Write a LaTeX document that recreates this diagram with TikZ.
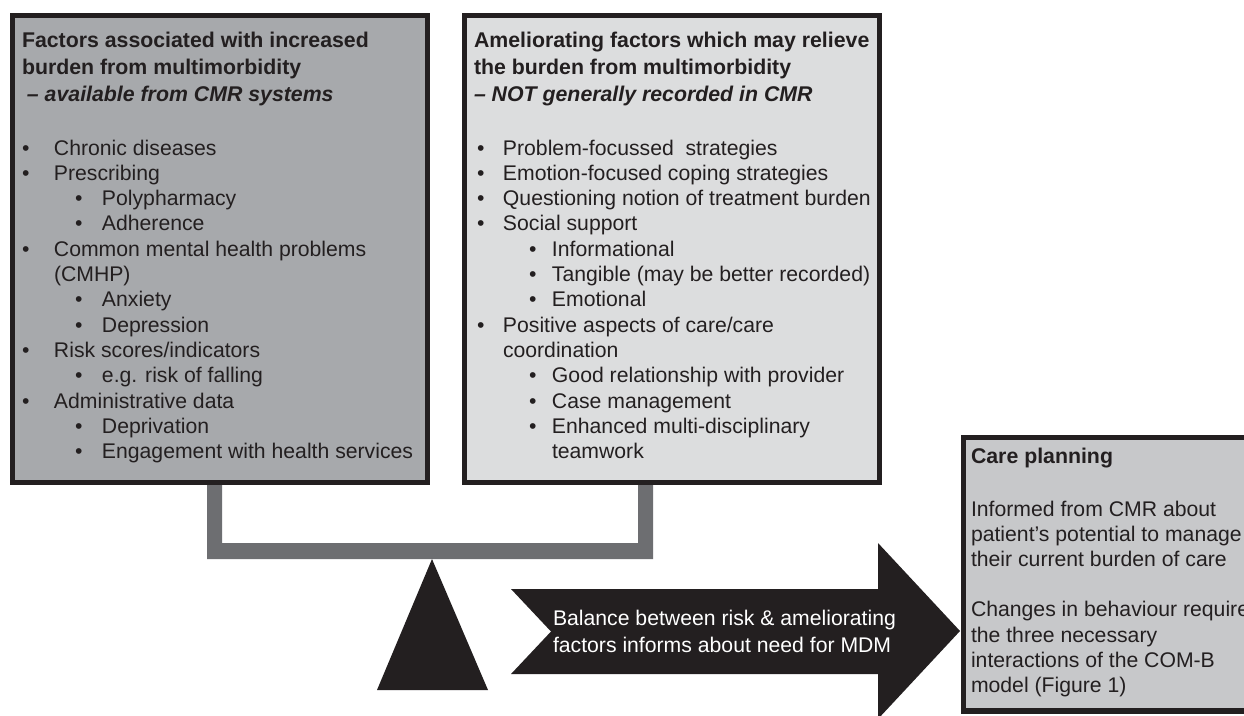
\documentclass[tikz,border=0pt]{standalone}
\usepackage{fontspec}
\setmainfont{Liberation Sans}
\definecolor{bd}{HTML}{231F20}
\definecolor{lfill}{HTML}{A7A9AC}
\definecolor{rfill}{HTML}{DCDDDE}
\definecolor{cfill}{HTML}{C7C8CA}
\definecolor{barc}{HTML}{6D6E71}
\definecolor{tc}{HTML}{231F20}
\newcommand{\bl}[2]{\makebox[#1pt][l]{\textbullet}#2}
\begin{document}
\begin{tikzpicture}[x=1pt,y=-1pt,
  box/.style={draw=bd, line width=5.5pt, inner sep=0pt, outer sep=0pt, anchor=north west},
  txt/.style={anchor=base west, inner sep=0pt, outer sep=0pt, text=tc, font=\fontsize{21.2}{25.3}\selectfont},
  hdr/.style={anchor=base west, inner sep=0pt, outer sep=0pt, text=tc, font=\bfseries\fontsize{21.3}{27}\selectfont},
  wtxt/.style={anchor=base west, inner sep=0pt, outer sep=0pt, text=white, font=\fontsize{21.2}{27}\selectfont}]
\useasboundingbox (0,0) rectangle (1244,715);
\clip (0,0) rectangle (1244,715);
\fill[white] (0,0) rectangle (1244,715);
% balance beam
\fill[barc] (207,470) -- (207,559) -- (653,559) -- (653,470) -- (638,470) -- (638,543) -- (222,543) -- (222,470) -- cycle;
% fulcrum
\fill[bd] (432,559) -- (488,690) -- (377,690) -- cycle;
% arrow
\fill[bd] (511,589) -- (878,589) -- (878,543) -- (960,631) -- (878,719) -- (878,674) -- (511,674) -- (551,631.5) -- cycle;
% boxes
\node[box, fill=lfill, minimum width=415pt, minimum height=467pt] (riskbox) at (12.5,15.5) {};
\node[box, fill=rfill, minimum width=415pt, minimum height=467pt] (amelbox) at (464.5,15.5) {};
\node[box, fill=cfill, minimum width=300pt, minimum height=273.5pt] (carebox) at (963.5,437.5) {};
% left box text
\node[hdr] (lh1) at (22,47) {Factors associated with increased};
\node[hdr] (lh2) at (22,74) {burden from multimorbidity};
\node[hdr] (lh3) at (27,101) {\itshape – available from CMR systems};
\node[txt] (l1) at (22,155) {\bl{32}{Chronic diseases}};
\node[txt] (l2) at (22,180.3) {\bl{32}{Prescribing}};
\node[txt] (l3) at (75,205.6) {\bl{27}{Polypharmacy}};
\node[txt] (l4) at (75,230.9) {\bl{27}{Adherence}};
\node[txt] (l5) at (22,256.2) {\bl{32}{Common mental health problems}};
\node[txt] (l6) at (54,281.5) {(CMHP)};
\node[txt] (l7) at (75,306.8) {\bl{27}{Anxiety}};
\node[txt] (l8) at (75,332.1) {\bl{27}{Depression}};
\node[txt] (l9) at (22,357.4) {\bl{32}{Risk scores/indicators}};
\node[txt] (l10) at (75,382.7) {\bl{27}{e.g. risk of falling}};
\node[txt] (l11) at (22,408) {\bl{32}{Administrative data}};
\node[txt] (l12) at (75,433.3) {\bl{27}{Deprivation}};
\node[txt] (l13) at (75,458.6) {\bl{27}{Engagement with health services}};
% right box text
\node[hdr] (rh1) at (474,47) {Ameliorating factors which may relieve};
\node[hdr] (rh2) at (474,74) {the burden from multimorbidity};
\node[hdr] (rh3) at (474,101) {\itshape – NOT generally recorded in CMR};
\node[txt] (r1) at (477,155) {\bl{26}{Problem-focussed\ \ strategies}};
\node[txt] (r2) at (477,180.3) {\bl{26}{Emotion-focused coping strategies}};
\node[txt] (r3) at (477,205.6) {\bl{26}{Questioning notion of treatment burden}};
\node[txt] (r4) at (477,230.9) {\bl{26}{Social support}};
\node[txt] (r5) at (529,256.2) {\bl{23}{Informational}};
\node[txt] (r6) at (529,281.5) {\bl{23}{Tangible (may be better recorded)}};
\node[txt] (r7) at (529,306.8) {\bl{23}{Emotional}};
\node[txt] (r8) at (477,332.1) {\bl{26}{Positive aspects of care/care}};
\node[txt] (r9) at (503,357.4) {coordination};
\node[txt] (r10) at (529,382.7) {\bl{23}{Good relationship with provider}};
\node[txt] (r11) at (529,408) {\bl{23}{Case management}};
\node[txt] (r12) at (529,433.3) {\bl{23}{Enhanced multi-disciplinary}};
\node[txt] (r13) at (552,458.6) {teamwork};
% arrow text
\node[wtxt] (a1) at (553,625) {Balance between risk \& ameliorating};
\node[wtxt] (a2) at (553,652) {factors informs about need for MDM};
% care planning text
\node[hdr] (ch) at (971,463.5) {Care planning};
\node[txt] (c1) at (971,516) {Informed from CMR about};
\node[txt] (c2) at (971,541.2) {patient’s potential to manage};
\node[txt] (c3) at (971,566.4) {their current burden of care};
\node[txt] (c4) at (971,616.8) {Changes in behaviour require};
\node[txt] (c5) at (971,642) {the three necessary};
\node[txt] (c6) at (971,667.2) {interactions of the COM-B};
\node[txt] (c7) at (971,692.4) {model (Figure 1)};
\end{tikzpicture}
\end{document}
